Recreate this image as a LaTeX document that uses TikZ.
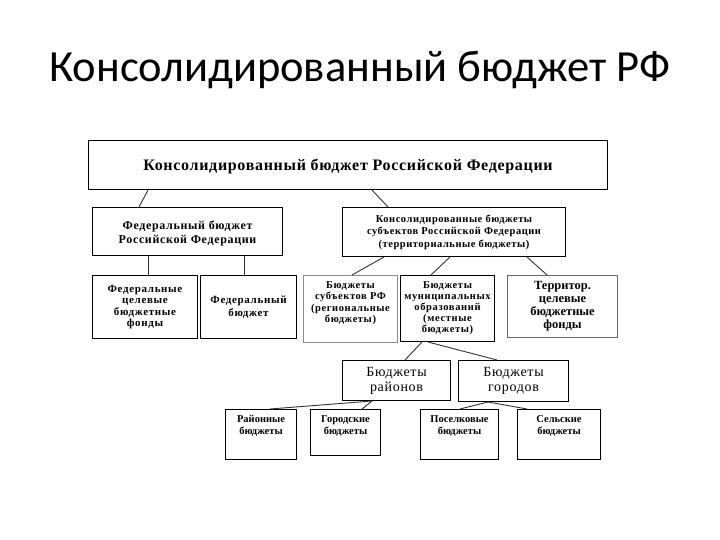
\documentclass[tikz,border=0pt]{standalone}
\usepackage{fontspec}
\setmainfont{Liberation Serif}
\newfontfamily\titlefont{Carlito}
\newcommand\ls[1]{\addfontfeature{LetterSpace=#1}}
\usetikzlibrary{calc}
\tikzset{
  box/.style={draw=black, line width=1pt, fill=white, inner sep=1pt, align=center,
    font=\bfseries\fontsize{10.5}{12}\selectfont},
  txt/.style={box, draw=none, fill=none},
  conn/.style={draw=black!80, line width=0.9pt},
}
\newcommand\bx[6][]{%
  \node[box, anchor=north west, minimum width={(#5-#3)*1pt}, minimum height={(#6-#4)*1pt}, #1]
    (#2) at (#3,#4) {};}
\begin{document}
\begin{tikzpicture}[x=1pt,y=-1pt]
\useasboundingbox (0,0) rectangle (720,540);
\fill[white] (0,0) rectangle (720,540);
\node[font=\titlefont\fontsize{44.5}{50}\selectfont, anchor=base] (title) at (360,82) {Консолидированный бюджет РФ};
% boxes
\bx{top}{88}{140}{607}{189}
\node[txt, font=\bfseries\fontsize{16}{18}\selectfont\ls{4.3}] (ttop) at ($(top.center)+(0,1)$) {Консолидированный бюджет Российской Федерации};
\bx{fed}{92}{207}{282}{255}
\node[txt, font=\bfseries\fontsize{12}{13.5}\selectfont\ls{5.5}] (tfed) at ($(fed.center)+(0,2)$) {Федеральный бюджет\\Российской Федерации};
\bx{cons}{342}{207}{565}{256}
\node[txt, font=\bfseries\fontsize{10.5}{12.5}\selectfont\ls{5}] (tcons) at (cons.center) {Консолидированные бюджеты\\субъектов Российской Федерации\\(территориальные бюджеты)};
\bx{ra}{92}{275}{197}{338}
\node[txt, font=\bfseries\fontsize{11}{11.5}\selectfont\ls{6}] (tra) at (ra.center) {Федеральные\\целевые\\бюджетные\\фонды};
\bx{rb}{200}{275}{296}{338}
\node[txt, font=\bfseries\fontsize{11}{13}\selectfont\ls{6}] (trb) at (rb.center) {Федеральный\\бюджет};
\bx[draw=black!45]{rc}{303}{275}{397}{342}
\node[txt, font=\bfseries\fontsize{10.5}{11.5}\selectfont\ls{5.5}] (trc) at ($(rc.center)+(0,-6)$) {Бюджеты\\субъектов РФ\\(региональные\\бюджеты)};
\bx{rd}{400}{275}{494}{341}
\node[txt, font=\bfseries\fontsize{10.5}{11}\selectfont\ls{6}] (trd) at (rd.center) {Бюджеты\\муниципальных\\образований\\(местные\\бюджеты)};
\bx[draw=black!60]{re}{507}{275}{617}{337}
\node[txt, font=\bfseries\fontsize{12.5}{13}\selectfont] (tre) at (re.center) {Территор.\\целевые\\бюджетные\\фонды};
\bx{rai}{342}{360}{450}{400}
\node[txt, font=\mdseries\fontsize{14}{15}\selectfont\ls{5}] (trai) at (rai.center) {Бюджеты\\районов};
\bx{gor}{458}{360}{568}{401}
\node[txt, font=\mdseries\fontsize{14}{15}\selectfont\ls{5}] (tgor) at (gor.center) {Бюджеты\\городов};
\bx{sa}{225}{409}{296}{459}
\node[txt, anchor=north] (tsa) at ($(sa.north)+(0,5)$) {Районные\\бюджеты};
\bx{sb}{310}{409}{380}{455}
\node[txt, anchor=north] (tsb) at ($(sb.north)+(0,5)$) {Городские\\бюджеты};
\bx{sc}{420}{409}{498}{459}
\node[txt, anchor=north] (tsc) at ($(sc.north)+(0,5)$) {Поселковые\\бюджеты};
\bx{sd}{517}{409}{600}{459}
\node[txt, anchor=north] (tsd) at ($(sd.north)+(0,5)$) {Сельские\\бюджеты};
% connectors
\draw[conn] ([xshift=60]top.south west) -- ([xshift=47]fed.north west);
\draw[conn] ([xshift=284]top.south west) -- ([xshift=46]cons.north west);
\draw[conn] ([xshift=56]fed.south west) -- ([xshift=56]ra.north west);
\draw[conn] ([xshift=152]fed.south west) -- ([xshift=44]rb.north west);
\draw[conn] ([xshift=42]cons.south west) -- ([xshift=49]rc.north west);
\draw[conn] ([xshift=108]cons.south west) -- ([xshift=31]rd.north west);
\draw[conn] ([xshift=185]cons.south west) -- ([xshift=40]re.north west);
\draw[conn] ([xshift=22]rd.south west) -- ([xshift=63]rai.north west);
\draw[conn] ([xshift=28]rd.south west) -- ([xshift=39]gor.north west);
\draw[conn] ([xshift=30]rai.south west) -- ([xshift=45]sa.north west);
\draw[conn] ([xshift=30]rai.south west) -- ([xshift=52]sb.north west);
\draw[conn] ([xshift=30]gor.south west) -- ([xshift=40]sc.north west);
\draw[conn] ([xshift=30]gor.south west) -- ([xshift=10]sd.north west);
\end{tikzpicture}
\end{document}
